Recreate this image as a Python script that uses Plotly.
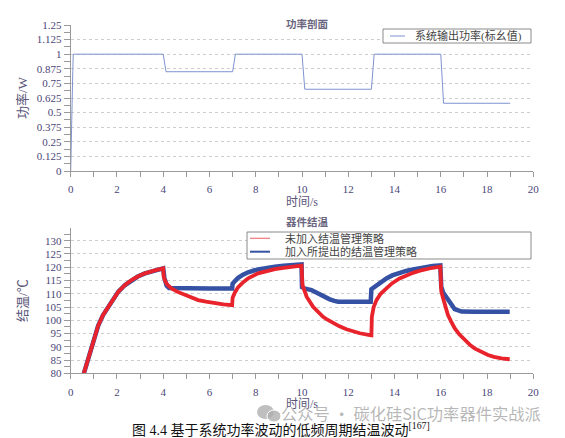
import plotly.graph_objects as go

# ---------------- data ----------------
power_t = [0, 0.02, 0.03, 0.05, 0.06, 0.09, 0.11, 4.0, 4.12, 7.0, 7.12, 10.0, 10.12, 13.0, 13.12, 16.0, 16.12, 19.0]
power_p = [0, 0.2, 0.5, 0.5, 0.85, 0.85, 1.0, 1.0, 0.85, 0.85, 1.0, 1.0, 0.70, 0.70, 1.0, 1.0, 0.58, 0.58]

red_t = [0.57, 0.76, 1.0, 1.19, 1.4, 1.63, 1.85, 2.06, 2.35, 2.63, 2.9, 3.21, 3.6, 4.0,
         4.02, 4.1, 4.2, 4.36, 4.6, 4.94, 5.2, 5.51, 5.85, 6.23, 6.6, 6.98,
         7.0, 7.1, 7.24, 7.45, 7.67, 8.1, 8.45, 8.83, 9.2, 9.55, 9.98,
         10.02, 10.2, 10.48, 10.7, 10.91, 11.1, 11.34, 11.6, 11.92, 12.2, 12.5, 12.93, 13.0,
         13.02, 13.1, 13.22, 13.4, 13.65, 13.9, 14.22, 14.5, 14.8, 15.1, 15.38, 15.65, 15.98,
         16.02, 16.1, 16.2, 16.31, 16.45, 16.6, 16.8, 17.03, 17.25, 17.46, 17.75, 18.04, 18.3, 18.62, 18.98]
red_T = [80, 85.7, 92.5, 98.0, 102.0, 105.1, 108.2, 110.8, 113.3, 115.2, 116.5, 117.7, 118.7, 119.6,
         116.5, 114.5, 113.2, 112.0, 110.8, 109.5, 108.5, 107.6, 107.0, 106.4, 106.0, 105.7,
         108.5, 110.5, 112.5, 114.3, 115.8, 117.7, 118.6, 119.3, 119.8, 120.2, 120.6,
         113.3, 108.9, 105.1, 102.9, 101.3, 100.2, 98.9, 97.8, 96.6, 95.8, 95.1, 94.4, 94.3,
         101.3, 105.0, 107.6, 110.0, 112.0, 114.0, 115.8, 117.0, 117.9, 118.7, 119.3, 119.8, 120.2,
         111.0, 108.3, 105.0, 102.0, 99.5, 97.0, 94.7, 92.6, 90.8, 89.4, 88.0, 86.9, 86.2, 85.6, 85.3]

blue_t = [0.57, 0.76, 1.0, 1.19, 1.4, 1.63, 1.85, 2.06, 2.35, 2.63, 2.9, 3.21, 3.6, 4.0,
          4.05, 4.15, 4.25, 5.0, 6.0, 6.98,
          7.0, 7.1, 7.24, 7.45, 7.67, 8.1, 8.45, 8.83, 9.2, 9.55, 9.98,
          10.0, 10.1, 10.41, 10.6, 10.77, 11.0, 11.2, 11.4, 11.56, 12.5, 12.97,
          13.0, 13.1, 13.22, 13.4, 13.65, 13.9, 14.22, 14.5, 14.8, 15.1, 15.38, 15.65, 15.98,
          16.02, 16.1, 16.24, 16.35, 16.5, 16.6, 16.75, 16.9, 17.5, 18.5, 18.98]
blue_T = [80, 85.7, 92.5, 98.0, 102.0, 105.1, 108.2, 110.8, 113.3, 115.2, 116.5, 117.7, 118.7, 119.6,
          116.0, 113.0, 112.2, 112.0, 112.0, 112.0,
          113.8, 114.8, 116.0, 117.2, 118.1, 119.2, 119.8, 120.2, 120.6, 120.8, 121.1,
          112.5, 112.0, 111.4, 110.5, 109.5, 108.6, 107.9, 107.3, 107.0, 107.0, 107.0,
          111.7, 112.3, 113.3, 114.6, 115.8, 116.9, 117.9, 118.6, 119.2, 119.8, 120.2, 120.5, 120.7,
          112.7, 110.5, 108.5, 107.2, 105.5, 104.2, 103.6, 103.3, 103.2, 103.2, 103.2]

x_ticks = [0, 2, 4, 6, 8, 10, 12, 14, 16, 18, 20]
x_tick_labels = ["0", "2", "4", "6", "8", "10", "12", "14", "16", "18", "20"]
power_ticks = [0, 0.125, 0.25, 0.375, 0.5, 0.625, 0.75, 0.875, 1.0, 1.125, 1.25]
power_tick_labels = ["0", "0.125", "0.25", "0.375", "0.5", "0.625", "0.75", "0.875", "1", "1.125", "1.25"]
temp_ticks = [80, 85, 90, 95, 100, 105, 110, 115, 120, 125, 130]
temp_tick_labels = [str(v) for v in temp_ticks]

power_name = "系统输出功率(标幺值)"
red_name = "未加入结温管理策略"
blue_name = "加入所提出的结温管理策略"

# ---------------- styling ----------------
W, H = 565, 438
def px(x):
    return x / W
def py(y):
    return 1 - y / H

RED = "#e8232b"
BLUE = "#3551a3"
POWER = "#7f93cf"
TICKC = "#4b4677"
AXC = "#9a9a9a"
TITC = "#5a5478"
GRID = "#cdcdcd"
SERIF = "Liberation Serif, Noto Sans CJK SC"
CJK = "Noto Sans CJK SC"

fig = go.Figure()
fig.add_trace(go.Scatter(x=power_t, y=power_p, mode="lines", name=power_name,
                         line=dict(color=POWER, width=1), showlegend=False,
                         xaxis="x", yaxis="y"))
fig.add_trace(go.Scatter(x=blue_t, y=blue_T, mode="lines", name=blue_name,
                         line=dict(color=BLUE, width=4.5), showlegend=False,
                         xaxis="x2", yaxis="y2"))
fig.add_trace(go.Scatter(x=red_t, y=red_T, mode="lines", name=red_name,
                         line=dict(color=RED, width=3.8), showlegend=False,
                         xaxis="x2", yaxis="y2"))

xcommon = dict(range=[0, 20], tickmode="array", tickvals=x_ticks, ticktext=x_tick_labels,
               ticks="outside", ticklen=5, tickcolor=AXC, showline=True, linecolor=AXC,
               showgrid=False, zeroline=False, automargin=False,
               minor=dict(dtick=1, tick0=0, ticks="outside", ticklen=5, tickcolor=AXC, showgrid=False),
               tickfont=dict(family=SERIF, size=11, color=TICKC), ticklabelstandoff=3)

fig.update_layout(
    width=W, height=H,
    margin=dict(l=0, r=0, t=0, b=0, autoexpand=False),
    paper_bgcolor="white", plot_bgcolor="white",
    showlegend=False,
    xaxis=dict(xcommon, domain=[px(70.7), px(533.3)], anchor="y",
               title=dict(text="时间/s", standoff=2, font=dict(family=SERIF, size=12, color=TITC))),
    yaxis=dict(domain=[py(171), py(25)], anchor="x", range=[0, 1.25], automargin=False,
               tickmode="array", tickvals=power_ticks, ticktext=power_tick_labels,
               ticks="outside", ticklen=6, tickcolor=AXC, showline=True, linecolor=AXC,
               showgrid=True, gridcolor=GRID, griddash="dot", gridwidth=1, zeroline=False,
               minor=dict(dtick=0.0625, tick0=0, ticks="outside", ticklen=6, tickcolor=AXC, showgrid=False),
               tickfont=dict(family=SERIF, size=11, color=TICKC),
               title=dict(text="功率/W", standoff=6, font=dict(family=SERIF, size=13, color=TITC))),
    xaxis2=dict(xcommon, domain=[px(70.7), px(533.3)], anchor="y2",
                title=dict(text="时间/s", standoff=2, font=dict(family=SERIF, size=12, color=TITC))),
    yaxis2=dict(domain=[py(373.3), py(228)], anchor="x2", range=[80, 134.8], automargin=False,
                tickmode="array", tickvals=temp_ticks, ticktext=temp_tick_labels,
                ticks="outside", ticklen=6, tickcolor=AXC, showline=True, linecolor=AXC,
                showgrid=True, gridcolor=GRID, griddash="dot", gridwidth=1, zeroline=False,
                minor=dict(dtick=2.5, tick0=80, ticks="outside", ticklen=6, tickcolor=AXC, showgrid=False),
                tickfont=dict(family=SERIF, size=11, color=TICKC),
                title=dict(text="结温/℃", standoff=14, font=dict(family=SERIF, size=13, color=TITC))),
)

# legend boxes, samples and watermark icon
ICON = "rgba(175,175,175,0.8)"
shapes = [
    dict(type="rect", xref="paper", yref="paper", x0=px(383), x1=px(531), y0=py(43), y1=py(29),
         line=dict(color="#8a8a8a", width=1), fillcolor="white", layer="above"),
    dict(type="line", xref="paper", yref="paper", x0=px(390), x1=px(405), y0=py(36), y1=py(36),
         line=dict(color=POWER, width=1), layer="above"),
    dict(type="rect", xref="paper", yref="paper", x0=px(247), x1=px(531), y0=py(259), y1=py(232),
         line=dict(color="#8a8a8a", width=1), fillcolor="white", layer="above"),
    dict(type="line", xref="paper", yref="paper", x0=px(250), x1=px(270), y0=py(238.3), y1=py(238.3),
         line=dict(color="#f07a80", width=1.2), layer="above"),
    dict(type="line", xref="paper", yref="paper", x0=px(250), x1=px(270), y0=py(251.7), y1=py(251.7),
         line=dict(color=BLUE, width=2), layer="above"),
    dict(type="circle", xref="paper", yref="paper", x0=px(257), x1=px(274), y0=py(419), y1=py(405),
         line=dict(width=0), fillcolor=ICON, layer="above"),
    dict(type="circle", xref="paper", yref="paper", x0=px(267), x1=px(281), y0=py(422), y1=py(410),
         line=dict(color="white", width=1), fillcolor=ICON, layer="above"),
]
fig.update_layout(shapes=shapes)

ann = [
    dict(text=power_name, x=px(413), y=py(36), xanchor="left", yanchor="middle"),
    dict(text=red_name, x=px(283), y=py(238.3), xanchor="left", yanchor="middle"),
    dict(text=blue_name, x=px(283), y=py(251.7), xanchor="left", yanchor="middle"),
]
for a in ann:
    fig.add_annotation(xref="paper", yref="paper", showarrow=False,
                       font=dict(family=SERIF, size=11, color="#444444"), **a)

fig.add_annotation(text="<b>功率剖面</b>", x=px(307), y=py(14), xref="paper", yref="paper",
                   showarrow=False, font=dict(family=CJK, size=10.5, color="#6b6680"))
fig.add_annotation(text="<b>器件结温</b>", x=px(307), y=py(221), xref="paper", yref="paper",
                   showarrow=False, font=dict(family=CJK, size=10.5, color="#6b6680"))
fig.add_annotation(text="图 4.4 基于系统功率波动的低频周期结温波动<sup>[167]</sup>", x=px(130), y=py(429),
                   xref="paper", yref="paper", xanchor="left", yanchor="middle", showarrow=False,
                   font=dict(family=SERIF, size=14, color="#111111"))
fig.add_annotation(text="公众号 · 碳化硅SiC功率器件实战派", x=px(543), y=py(413), xref="paper", yref="paper",
                   xanchor="right", yanchor="middle", showarrow=False,
                   font=dict(family=CJK, size=16.3, color="rgba(160,160,160,0.75)"))

fig.write_html("out.html", config={"displayModeBar": False},
               post_script="document.body.style.margin='0';document.body.style.padding='0';")
